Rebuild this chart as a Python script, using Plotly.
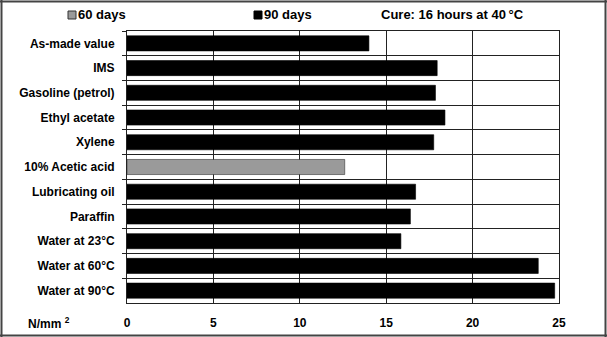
import plotly.graph_objects as go

categories = ["As-made value", "IMS", "Gasoline (petrol)", "Ethyl acetate", "Xylene",
              "10% Acetic acid", "Lubricating oil", "Paraffin", "Water at 23°C",
              "Water at 60°C", "Water at 90°C"]
values_60_days = [None, None, None, None, None, 12.6, None, None, None, None, None]
values_90_days = [14.0, 17.95, 17.85, 18.4, 17.75, None, 16.7, 16.4, 15.85, 23.8, 24.75]
x_ticks = [0, 5, 10, 15, 20, 25]

FONT = "Liberation Sans, Arial, sans-serif"
W, H = 607, 337
ML, MR, MT, MB = 127, 48, 31, 34
PW = W - ML - MR
PH = H - MT - MB

fig = go.Figure()
fig.add_trace(go.Bar(y=categories, x=values_60_days, orientation="h", name="60 days",
                     marker=dict(color="#9a9a9a", line=dict(color="#333", width=0.6))))
fig.add_trace(go.Bar(y=categories, x=values_90_days, orientation="h", name="90 days",
                     marker=dict(color="#000000", line=dict(color="#000", width=0.6))))

fig.update_layout(
    width=W, height=H,
    margin=dict(l=ML, r=MR, t=MT, b=MB, autoexpand=False),
    barmode="overlay", bargap=0.39,
    showlegend=False,
    paper_bgcolor="white", plot_bgcolor="white",
    font=dict(family=FONT, size=12, color="black", weight="bold"),
)
fig.update_xaxes(range=[0, 25], tickvals=x_ticks, showgrid=True, gridcolor="#222",
                 gridwidth=1, showline=True, linecolor="#222", linewidth=1, mirror=True,
                 ticks="", ticklabelstandoff=9, zeroline=False, automargin=False)
fig.update_yaxes(categoryorder="array", categoryarray=categories, autorange="reversed",
                 tickson="boundaries", showgrid=True, gridcolor="#222", gridwidth=1,
                 showline=True, linecolor="#222", linewidth=1, mirror=True,
                 ticks="outside", ticklen=4, tickcolor="#222", ticklabelstandoff=9,
                 automargin=False)

def px_x(p):
    return (p - ML) / PW

def px_y(p):
    return 1 - (p - MT) / PH

ann = dict(xref="paper", yref="paper", showarrow=False, yanchor="middle", xanchor="left",
           font=dict(family=FONT, size=13, color="black", weight="bold"))
fig.add_annotation(x=px_x(76), y=px_y(15), text="60 days", **ann)
fig.add_annotation(x=px_x(262), y=px_y(15), text="90 days", **ann)
fig.add_annotation(x=px_x(379), y=px_y(15), text="Cure: 16 hours at 40\u2009°C", **ann)
fig.add_annotation(x=px_x(26), y=px_y(323), text="N/mm <sup>2</sup>",
                   **{**ann, "font": dict(family=FONT, size=12, color="black", weight="bold")})

# legend swatches
fig.add_shape(type="rect", xref="paper", yref="paper",
              x0=px_x(68), x1=px_x(76), y0=px_y(19), y1=px_y(11),
              fillcolor="#9a9a9a", line=dict(color="#333", width=1))
fig.add_shape(type="rect", xref="paper", yref="paper",
              x0=px_x(254), x1=px_x(262), y0=px_y(19), y1=px_y(11),
              fillcolor="#000", line=dict(color="#000", width=1))

# outer frame (four edges)
frame = dict(type="line", xref="paper", yref="paper", line=dict(color="#444", width=2),
             layer="above")
fig.add_shape(x0=px_x(0), x1=px_x(W), y0=px_y(1.5), y1=px_y(1.5), **frame)
fig.add_shape(x0=px_x(0), x1=px_x(W), y0=px_y(H - 1.5), y1=px_y(H - 1.5), **frame)
fig.add_shape(x0=px_x(1.5), x1=px_x(1.5), y0=px_y(0), y1=px_y(H), **frame)
fig.add_shape(x0=px_x(W - 1.5), x1=px_x(W - 1.5), y0=px_y(0), y1=px_y(H), **frame)

fig.write_html("out.html")
